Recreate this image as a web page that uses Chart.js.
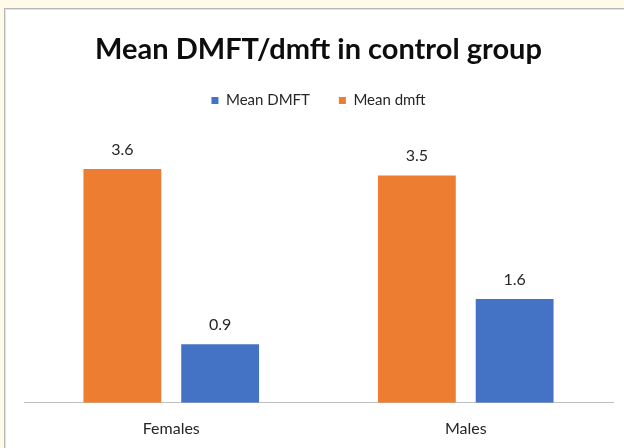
<!DOCTYPE html>
<html>
<head>
<meta charset="utf-8">
<script src="https://cdn.jsdelivr.net/npm/chart.js@4"></script>
<style>
  html, body { margin: 0; padding: 0; }
  body { width: 624px; height: 448px; background: #fffbe8; position: relative; overflow: hidden; }
  #frame {
    position: absolute; left: 4px; top: 8px; width: 630px; height: 450px;
    background: #fff; border-top: 1px solid #b8b8b8; border-left: 1px solid #b8b8b8;
    box-shadow: inset 1px 1px 0 #e2e2e2;
  }
  #wrap { position: absolute; left: 0; top: 0; width: 624px; height: 454px; }
</style>
</head>
<body>
<div id="frame"></div>
<div id="wrap"><canvas id="chart" width="624" height="454"></canvas></div>
<script>
const categories = ["Females", "Males"];
const seriesNames = ["Mean dmft", "Mean DMFT"];
const dmftValues = [3.6, 3.5];
const DMFTValues = [0.9, 1.6];
const seriesColors = ["#ED7D31", "#4472C4"];
const yMax = 4;

const fontFamily = "Lato, 'Open Sans', sans-serif";

// draws the value above every bar
const valueLabels = {
  id: "valueLabels",
  afterDatasetsDraw(chart) {
    const ctx = chart.ctx;
    ctx.save();
    ctx.font = "16px " + fontFamily;
    ctx.fillStyle = "#262626";
    ctx.textAlign = "center";
    ctx.textBaseline = "alphabetic";
    chart.data.datasets.forEach((ds, i) => {
      chart.getDatasetMeta(i).data.forEach((bar, j) => {
        ctx.fillText(ds.data[j].toFixed(1), bar.x, bar.y - 14);
      });
    });
    ctx.restore();
  },
};

// extra room between legend and bars
const legendGap = {
  id: "legendGap",
  beforeInit(chart) {
    const fit = chart.legend.fit;
    chart.legend.fit = function () {
      fit.bind(chart.legend)();
      this.height += 25;
    };
  },
};

new Chart(document.getElementById("chart"), {
  type: "bar",
  data: {
    labels: categories,
    datasets: [
      {
        label: seriesNames[0],
        data: dmftValues,
        backgroundColor: seriesColors[0],
        categoryPercentage: 0.664,
        barPercentage: 0.796,
      },
      {
        label: seriesNames[1],
        data: DMFTValues,
        backgroundColor: seriesColors[1],
        categoryPercentage: 0.664,
        barPercentage: 0.796,
      },
    ],
  },
  options: {
    responsive: false,
    animation: false,
    devicePixelRatio: 1,
    layout: { padding: { left: 24, right: 11, top: 35, bottom: 0 } },
    plugins: {
      title: {
        display: true,
        text: "Mean DMFT/dmft in control group",
        color: "#0d0d0d",
        font: { family: fontFamily, size: 29, weight: "bold", lineHeight: 1 },
        padding: { top: 0, bottom: 0 },
      },
      legend: {
        reverse: true,
        labels: {
          color: "#262626",
          font: { family: fontFamily, size: 15 },
          boxWidth: 7,
          boxHeight: 7,
          padding: 29,
        },
      },
      tooltip: { enabled: false },
    },
    scales: {
      x: {
        grid: { display: false, drawTicks: false },
        border: { color: "#bfbfbf", width: 1 },
        ticks: { color: "#262626", font: { family: fontFamily, size: 16 }, padding: 16 },
      },
      y: { display: false, min: 0, max: yMax },
    },
  },
  plugins: [valueLabels, legendGap],
});
</script>
</body>
</html>
